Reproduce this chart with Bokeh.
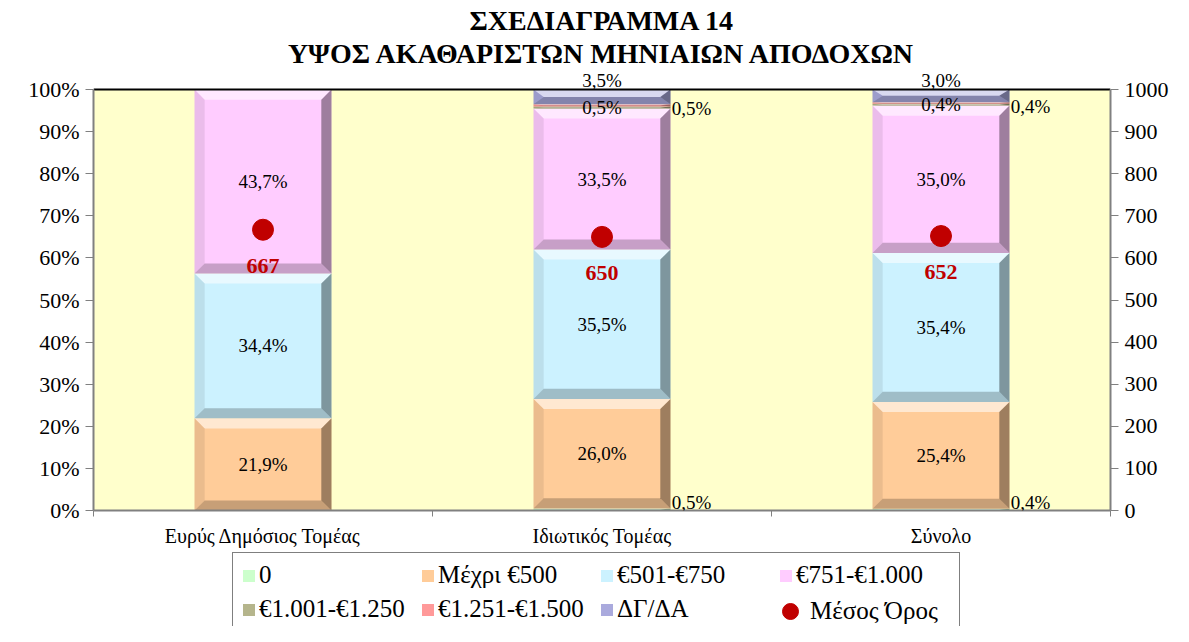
from bokeh.plotting import figure
from bokeh.layouts import column
from bokeh.models import (Range1d, LinearAxis, FixedTicker, ColumnDataSource,
                          LabelSet, Legend, LegendItem, Title)
from bokeh.embed import file_html
from bokeh.resources import INLINE

# ---------------- data ----------------
categories = ["Ευρύς Δημόσιος Τομέας", "Ιδιωτικός Τομέας", "Σύνολο"]
series_names = ["0", "Μέχρι €500", "€501-€750", "€751-€1.000",
                "€1.001-€1.250", "€1.251-€1.500", "ΔΓ/ΔΑ"]
s_zero = [0.0, 0.5, 0.4]
s_upto500 = [21.9, 26.0, 25.4]
s_501_750 = [34.4, 35.5, 35.4]
s_751_1000 = [43.7, 33.5, 35.0]
s_1001_1250 = [0.0, 0.5, 0.4]
s_1251_1500 = [0.0, 0.5, 0.4]
s_dk = [0.0, 3.5, 3.0]
average = [667, 650, 652]
avg_name = "Μέσος Όρος"
y_ticks = [0, 10, 20, 30, 40, 50, 60, 70, 80, 90, 100]
y_tick_labels = ["0%", "10%", "20%", "30%", "40%", "50%", "60%", "70%", "80%", "90%", "100%"]
y2_ticks = [0, 100, 200, 300, 400, 500, 600, 700, 800, 900, 1000]
title_lines = ["ΣΧΕΔΙΑΓΡΑΜΜΑ 14", "ΥΨΟΣ ΑΚΑΘΑΡΙΣΤΩΝ ΜΗΝΙΑΙΩΝ ΑΠΟΔΟΧΩΝ"]

series_values = [s_zero, s_upto500, s_501_750, s_751_1000, s_1001_1250, s_1251_1500, s_dk]
colors = ["#CCFFCC", "#FFCC99", "#CCF2FF", "#FFCCFF", "#B5B58C", "#FF9999", "#AAAADD"]
label_pos = ["right", "center", "center", "center", "center", "right", "above"]

FONT = "Liberation Serif"
xc = [i + 0.5 for i in range(len(categories))]
X_MAX = float(len(categories))
Y_MAX, Y2_MAX = 100.0, 1000.0
HEAD = 1.05          # room above 100% for the top label
HALF = 0.202
BX, BY = 0.03, 2.4

p = figure(width=1173, height=550, x_range=Range1d(0, X_MAX), y_range=Range1d(0, Y_MAX * HEAD),
           output_backend="svg", toolbar_location=None,
           min_border_left=93, min_border_right=63, min_border_top=68, min_border_bottom=40,
           background_fill_color="white", border_fill_color="white",
           outline_line_color=None)
p.grid.visible = False
p.extra_y_ranges = {"avg": Range1d(0, Y2_MAX * HEAD)}

# plot area background
p.quad(left=[0], right=[X_MAX], bottom=[0], top=[Y_MAX], fill_color="#FFFFCC", line_color=None)

# ---------------- bars ----------------
bottoms = [0.0] * len(categories)
bar_sources = []
label_sets = []
for k, (name, vals) in enumerate(zip(series_names, series_values)):
    x0 = [c - HALF for c in xc]
    x1 = [c + HALF for c in xc]
    y0 = list(bottoms)
    y1 = [b + v for b, v in zip(bottoms, vals)]
    src = ColumnDataSource(dict(left=x0, right=x1, bottom=y0, top=y1))
    bar_sources.append(src)
    p.quad(left="left", right="right", bottom="bottom", top="top", source=src,
           fill_color=colors[k], line_color=None)
    # bevel
    tops, bots, lefts, rights = ([], []), ([], []), ([], []), ([], [])
    for a, b, c0, c1, v in zip(x0, x1, y0, y1, vals):
        if v <= 0:
            continue
        by = min(BY, v / 2.0)
        bx = BX
        tops[0].append([a, b, b - bx, a + bx]); tops[1].append([c1, c1, c1 - by, c1 - by])
        bots[0].append([a, b, b - bx, a + bx]); bots[1].append([c0, c0, c0 + by, c0 + by])
        lefts[0].append([a, a + bx, a + bx, a]); lefts[1].append([c0, c0 + by, c1 - by, c1])
        rights[0].append([b, b - bx, b - bx, b]); rights[1].append([c0, c0 + by, c1 - by, c1])
    for (xs, ys), col, al in [(tops, "white", 0.55), (bots, "black", 0.22),
                              (lefts, "black", 0.08), (rights, "black", 0.38)]:
        if xs:
            p.patches(xs=xs, ys=ys, fill_color=col, fill_alpha=al, line_color=None)
    # labels
    lx, ly, lt = [], [], []
    for c, c0, c1, v in zip(xc, y0, y1, vals):
        if v <= 0:
            continue
        txt = f"{v:.1f}".replace(".", ",") + "%"
        if label_pos[k] == "center":
            lx.append(c); ly.append((c0 + c1) / 2)
        elif label_pos[k] == "right":
            lx.append(c + HALF + 0.004); ly.append((c0 + c1) / 2)
        else:
            lx.append(c); ly.append(c1)
        lt.append(txt)
    lsrc = ColumnDataSource(dict(x=lx, y=ly, t=lt))
    common = dict(x="x", y="y", text="t", source=lsrc, text_baseline="middle",
                  text_font=FONT, text_font_size="19px", text_color="black")
    if label_pos[k] == "center":
        ls = LabelSet(text_align="center", **common)
    elif label_pos[k] == "right":
        ls = LabelSet(text_align="left", y_offset=(7 if k == 0 else -3), **common)
    else:
        ls = LabelSet(text_align="center", y_offset=9, **common)
    label_sets.append(ls)
    bottoms = y1

# top border line of the plot area
p.segment(x0=[0], y0=[Y_MAX], x1=[X_MAX], y1=[Y_MAX], line_color="black", line_width=2)

for ls in label_sets:
    p.add_layout(ls)

# ---------------- average ----------------
asrc = ColumnDataSource(dict(x=xc, y=average, t=[str(a) for a in average]))
p.scatter(x="x", y="y", source=asrc, y_range_name="avg", size=21,
          fill_color="#C00000", line_color="#C00000")
p.add_layout(LabelSet(x="x", y="y", text="t", source=asrc, y_range_name="avg",
                      text_align="center", text_baseline="middle", y_offset=-36,
                      text_font=FONT, text_font_size="22px", text_font_style="bold",
                      text_color="#C00000"))

# ---------------- axes ----------------
xa = p.xaxis[0]
xa.ticker = FixedTicker(ticks=xc, minor_ticks=[0, 1, 2, 3])
xa.major_label_overrides = {c: n for c, n in zip(xc, categories)}
xa.major_tick_out = 0
xa.major_tick_in = 0
xa.minor_tick_out = 6
xa.minor_tick_in = 0
xa.axis_line_color = "#808080"
xa.axis_line_width = 2
xa.minor_tick_line_color = "#808080"
xa.major_label_text_font = FONT
xa.major_label_text_font_size = "20px"
xa.major_label_text_color = "black"
xa.major_label_standoff = 8

ya = p.yaxis[0]
ya.ticker = FixedTicker(ticks=y_ticks, minor_ticks=[])
ya.major_label_overrides = {t: l for t, l in zip(y_ticks, y_tick_labels)}
ya.bounds = (0, Y_MAX)
ya2 = LinearAxis(y_range_name="avg", ticker=FixedTicker(ticks=y2_ticks, minor_ticks=[]),
                 bounds=(0, Y2_MAX))
p.add_layout(ya2, "right")
for ax in (ya, ya2):
    ax.major_tick_out = 8
    ax.major_tick_in = 0
    ax.minor_tick_out = 0
    ax.minor_tick_in = 0
    ax.axis_line_color = "#808080"
    ax.axis_line_width = 2
    ax.major_tick_line_color = "#808080"
    ax.major_label_text_font = FONT
    ax.major_label_text_font_size = "22px"
    ax.major_label_text_color = "black"
    ax.major_label_standoff = 6

# ---------------- title ----------------
p.add_layout(Title(text=title_lines[1], align="center", text_font=FONT, text_color="black",
                   text_font_size="28px", text_font_style="bold", standoff=0), "above")
p.add_layout(Title(text=title_lines[0], align="center", text_font=FONT, text_color="black",
                   text_font_size="28px", text_font_style="bold", standoff=0), "above")

# ---------------- legend (own strip below the chart) ----------------
# the strip shares the bar/average sources, but its ranges keep those marks out of view
lg = figure(width=1173, height=76, x_range=Range1d(-10, -9), y_range=Range1d(-10, -9),
            output_backend="svg", toolbar_location=None,
            x_axis_location=None, y_axis_location=None,
            min_border_left=93, min_border_top=0, min_border_right=63, min_border_bottom=0,
            outline_line_color=None, background_fill_color="white", border_fill_color="white")
lg.grid.visible = False
lg.extra_y_ranges = {"avg": Range1d(-10, -9)}
items = []
for name, col, src in zip(series_names, colors, bar_sources):
    r = lg.quad(left="left", right="right", bottom="bottom", top="top", source=src,
                fill_color=col, line_color=None)
    items.append(LegendItem(label=name, renderers=[r], index=0))
legend = Legend(items=items, orientation="horizontal", ncols=4, location=(139, -6),
                label_text_font=FONT, label_text_font_size="25px", label_text_color="black",
                glyph_width=15, glyph_height=15, label_height=26, label_standoff=3,
                label_width=155, spacing=6, padding=8, margin=0,
                border_line_color="black", border_line_width=1.5,
                background_fill_color="white")
lg.add_layout(legend)
rd = lg.scatter(x="x", y="y", source=asrc, y_range_name="avg",
                fill_color="#C00000", line_color="#C00000")
legend2 = Legend(items=[LegendItem(label=avg_name, renderers=[rd], index=0)], location=(677, -5),
                 label_text_font=FONT, label_text_font_size="25px", label_text_color="black",
                 glyph_width=40, glyph_height=40, label_height=26, label_standoff=0,
                 padding=0, margin=0, border_line_color=None, background_fill_alpha=0)
lg.add_layout(legend2)

open("out.html", "w").write(file_html(column(p, lg, spacing=0), INLINE))
